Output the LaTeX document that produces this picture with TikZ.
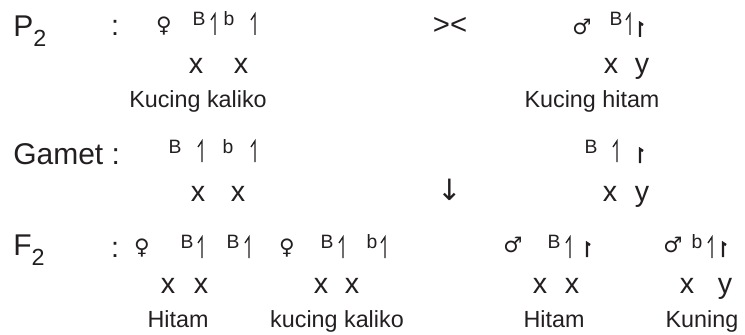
\documentclass[tikz,border=0pt]{standalone}
\usepackage{fontspec}
\setmainfont{Liberation Sans}
\newfontfamily\symfont{DejaVu Sans}
\usetikzlibrary{positioning}
\definecolor{inkGray}{HTML}{231F20}

\begin{document}
\begin{tikzpicture}[x=0.75pt, y=-0.75pt, every node/.style={text=inkGray, inner sep=0pt},
    big/.style={anchor=base west, font=\fontsize{22.5}{26}\selectfont},
    gen/.style={anchor=base, font=\fontsize{21.5}{25}\selectfont},
    lbl/.style={anchor=base, font=\fontsize{17.5}{20}\selectfont},
    alel/.style={anchor=base, font=\fontsize{14.5}{17}\selectfont},
    sex/.style={font=\symfont\fontsize{16}{19}\selectfont},
    kromX/.style={draw=inkGray, line width=1pt},
    kromY/.style={draw=inkGray, line width=1.8pt}
  ]
  \useasboundingbox (0,0) rectangle (745,335);
  % row headings
  \node[big] (p2) at (13,37) {P\raisebox{-7.5pt}{\fontsize{17.5}{17}\selectfont 2}};
  \node[big] (gamet) at (13,164) {Gamet :};
  \node[big] (f2) at (13,255) {F\raisebox{-7.5pt}{\fontsize{17.5}{17}\selectfont 2}};
  \node[gen] (p2colon) at (115,36) {:};
  \node[gen] (f2colon) at (115,257) {:};
  % cross and arrow
  \node[font=\fontsize{22}{26}\selectfont] (cross) at (450,26) {><};
  \node[font=\symfont\fontsize{22}{26}\selectfont] (down) at (450,190) {↓};
  % sex signs
  \foreach \i/\px/\py/\s in {1/164/26/♀, 2/582/27/♂, 3/142/248/♀, 4/287/248/♀, 5/513/245/♂, 6/673/245/♂} {
    \node[sex] (sex\i) at (\px,\py) {\s};
  }
  % alleles
  \foreach \i/\px/\py/\a in {1/199/26/B, 2/229/26/b, 3/616/26/B, 4/175/153/B, 5/228/153/b, 6/591/153/B,
      7/187/248/B, 8/233/248/B, 9/327/248/B, 10/372/248/b, 11/554/248/B, 12/697/248/b} {
    \node[alel] (al\i) at (\px,\py) {\a};
  }
  % chromosomes
  \foreach \px/\py in {215/14, 255/14, 630/14, 202/141, 255/141, 617/141,
      202/237, 249/237, 343/237, 385/237, 570/237, 712/237} {
    \draw[kromX] (\px-4,\py+6) -- (\px,\py) -- (\px,\py+21);
  }
  \foreach \px/\py in {640/23, 640/149, 587/243, 723/243} {
    \draw[kromY] (\px,\py+14) -- (\px,\py) -- (\px+3,\py+2);
  }
  % sex chromosome letters
  \foreach \i/\px/\py/\g in {1/196/74/x, 2/241/74/x, 3/611/74/x, 4/642/74/y, 5/198/201/x, 6/238/201/x,
      7/610/201/x, 8/642/201/y, 9/168/293/x, 10/201/293/x, 11/321/293/x, 12/352/293/x,
      13/540/293/x, 14/572/293/x, 15/687/293/x, 16/725/293/y} {
    \node[gen] (g\i) at (\px,\py) {\g};
  }
  % phenotypes
  \node[lbl] (kaliko) at (198,107) {Kucing kaliko};
  \node[lbl] (hitam) at (592,107) {Kucing hitam};
  \node[lbl] (f2hitamA) at (178,327) {Hitam};
  \node[lbl] (f2kaliko) at (337,327) {kucing kaliko};
  \node[lbl] (f2hitamB) at (554,327) {Hitam};
  \node[lbl] (f2kuning) at (702,327) {Kuning};
\end{tikzpicture}
\end{document}
